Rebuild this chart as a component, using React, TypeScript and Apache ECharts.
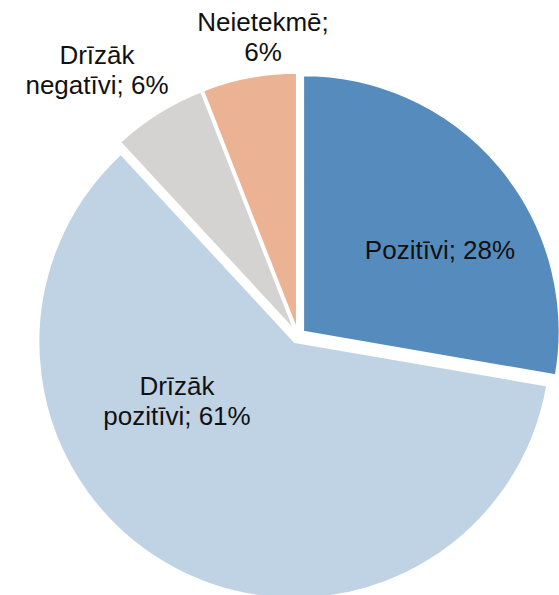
import React, { useEffect, useRef } from "react";
import * as echarts from "echarts";

const categories = ["Pozitīvi", "Drīzāk pozitīvi", "Drīzāk negatīvi", "Neietekmē"];
const values = [28, 61, 6, 6];
const labelTexts = ["Pozitīvi; 28%", "Drīzāk\npozitīvi; 61%", "Drīzāk\nnegatīvi; 6%", "Neietekmē;\n6%"];
const colors = ["#568CBD", "#C0D3E4", "#D5D2D2", "#EBB293"];
const labelPos: [number, number][] = [
  [440, 250],
  [177, 401],
  [97, 70],
  [263, 37],
];

export default function App() {
  const ref = useRef<HTMLDivElement>(null);
  useEffect(() => {
    document.body.style.margin = "0";
    if (!ref.current) return;
    const chart = echarts.init(ref.current, undefined, { renderer: "svg" });
    chart.setOption({
      animation: false,
      backgroundColor: "#ffffff",
      graphic: labelTexts.map((t, i) => ({
        type: "text",
        x: labelPos[i][0],
        y: labelPos[i][1],
        z: 100,
        style: {
          text: t,
          align: "center",
          verticalAlign: "middle",
          fontFamily: "Liberation Sans, Arial, sans-serif",
          fontSize: 26,
          lineHeight: 30,
          fill: "#111111",
        },
      })),
      series: [
        {
          type: "pie",
          center: [298, 336],
          radius: 256,
          startAngle: 90,
          clockwise: true,
          selectedMode: "multiple",
          selectedOffset: 7,
          avoidLabelOverlap: false,
          emphasis: { disabled: true },
          itemStyle: { borderColor: "#ffffff", borderWidth: 1.5 },
          labelLine: { show: false },
          label: { show: false },
          data: categories.map((c, i) => ({
            name: c,
            value: values[i],
            selected: true,
            itemStyle: { color: colors[i] },
            select: { itemStyle: { color: colors[i] } },
          })),
        },
      ],
    });
    return () => chart.dispose();
  }, []);
  return <div ref={ref} style={{ width: 559, height: 595 }} />;
}
